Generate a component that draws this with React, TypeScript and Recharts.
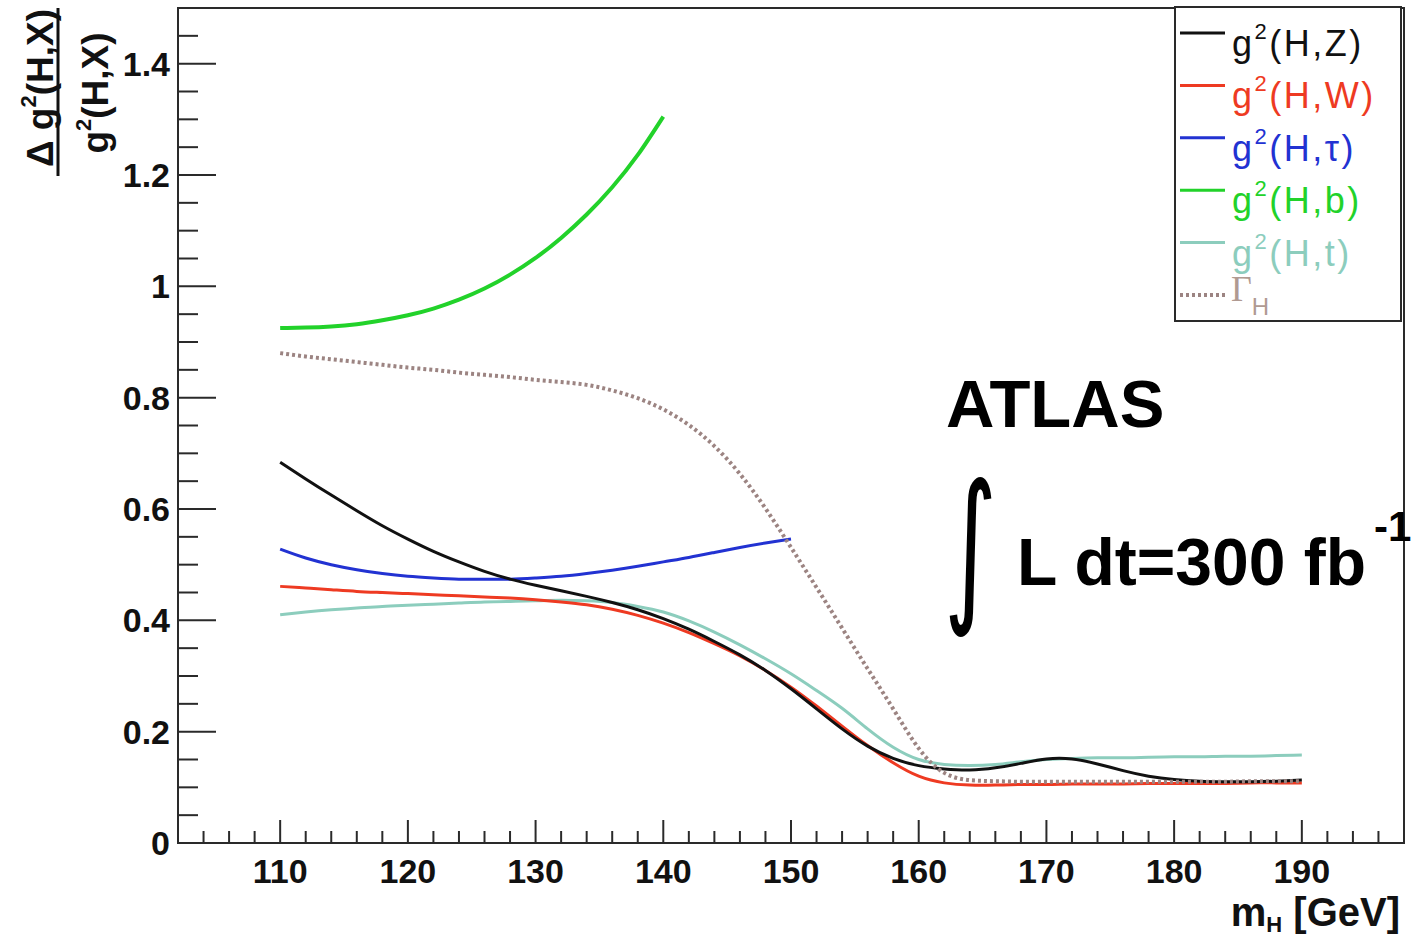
import React from 'react'
import { LineChart, Line, XAxis, YAxis, ReferenceArea, Legend } from 'recharts'

// Higgs mass points (GeV)
const MASS = [
  110, 112, 114, 116, 118, 120, 122, 124, 126, 128, 130, 132, 134, 136, 138, 140, 142, 144, 146, 148,
  150, 152, 154, 156, 158, 160, 162, 164, 166, 168, 170, 172, 174, 176, 178, 180, 182, 184, 186, 188, 190,
]

// relative coupling uncertainties
const HZ = [
  0.684, 0.654, 0.625, 0.597, 0.57, 0.546, 0.524, 0.505, 0.488, 0.474, 0.463, 0.453, 0.443, 0.432, 0.419,
  0.403, 0.384, 0.362, 0.338, 0.31, 0.277, 0.241, 0.205, 0.174, 0.152, 0.139, 0.133, 0.131, 0.135, 0.143,
  0.151, 0.151, 0.142, 0.13, 0.12, 0.114, 0.111, 0.11, 0.11, 0.111, 0.113,
]
const HW = [
  0.461, 0.458, 0.455, 0.452, 0.45, 0.448, 0.446, 0.444, 0.442, 0.44, 0.437, 0.433, 0.428, 0.42, 0.409,
  0.395, 0.378, 0.358, 0.336, 0.31, 0.28, 0.246, 0.21, 0.175, 0.144, 0.12, 0.108, 0.104, 0.104, 0.105,
  0.105, 0.106, 0.106, 0.106, 0.107, 0.107, 0.107, 0.107, 0.108, 0.108, 0.108,
]
// tau and b only up to 150 / 140 GeV
const HTAU = [
  0.528, 0.512, 0.5, 0.491, 0.484, 0.479, 0.476, 0.474, 0.474, 0.474, 0.476, 0.479, 0.484, 0.49, 0.497,
  0.505, 0.513, 0.522, 0.531, 0.539, 0.546,
]
const HB = [
  0.925, 0.926, 0.928, 0.932, 0.939, 0.948, 0.96, 0.976, 0.996, 1.021, 1.051, 1.087, 1.129, 1.178, 1.236, 1.305,
]
const HT = [
  0.41, 0.415, 0.419, 0.422, 0.425, 0.427, 0.429, 0.431, 0.433, 0.434, 0.435, 0.436, 0.435, 0.432, 0.425,
  0.415, 0.399, 0.379, 0.356, 0.331, 0.304, 0.274, 0.242, 0.205, 0.172, 0.15, 0.141, 0.139, 0.141, 0.146,
  0.15, 0.152, 0.153, 0.153, 0.154, 0.155, 0.155, 0.156, 0.156, 0.157, 0.158,
]
const GAMMA_H = [
  0.88, 0.874, 0.869, 0.864, 0.859, 0.854, 0.85, 0.845, 0.841, 0.837, 0.832, 0.828, 0.823, 0.813, 0.799,
  0.779, 0.751, 0.713, 0.663, 0.601, 0.531, 0.459, 0.386, 0.313, 0.241, 0.17, 0.126, 0.113, 0.111, 0.11,
  0.11, 0.11, 0.11, 0.11, 0.11, 0.11, 0.11, 0.11, 0.111, 0.111, 0.111,
]

const X_TICKS = [
  102, 104, 106, 108, 110, 112, 114, 116, 118, 120, 122, 124, 126, 128, 130, 132, 134, 136, 138, 140,
  142, 144, 146, 148, 150, 152, 154, 156, 158, 160, 162, 164, 166, 168, 170, 172, 174, 176, 178, 180,
  182, 184, 186, 188, 190, 192, 194, 196, 198,
]
const Y_TICKS = [
  0, 0.05, 0.1, 0.15, 0.2, 0.25, 0.3, 0.35, 0.4, 0.45, 0.5, 0.55, 0.6, 0.65, 0.7, 0.75, 0.8, 0.85, 0.9,
  0.95, 1, 1.05, 1.1, 1.15, 1.2, 1.25, 1.3, 1.35, 1.4, 1.45,
]

const LEGEND_LABELS = ['(H,Z)', '(H,W)', '(H,\u03c4)', '(H,b)', '(H,t)']

const FONT = '"Liberation Sans", Arial, Helvetica, sans-serif'
const AXIS = '#2a2a2a'
const COLORS = {
  hz: '#111111',
  hw: '#ee3a22',
  htau: '#2232d2',
  hb: '#22d22a',
  ht: '#8ccdbd',
  gh: '#9c8482',
}

function XTick(props: any) {
  const { x, y, payload } = props
  const v = payload.value
  const major = v % 10 === 0
  return (
    <g>
      <line x1={x} x2={x} y1={y} y2={y - (major ? 23 : 12)} stroke={AXIS} strokeWidth={2} />
      {major && (
        <text x={x} y={y + 40} textAnchor="middle" fontFamily={FONT} fontWeight="bold" fontSize={34} fill="#111">
          {v}
        </text>
      )}
    </g>
  )
}

function YTick(props: any) {
  const { x, y, payload } = props
  const v = payload.value
  const r = v / 0.2
  const major = Math.abs(r - Math.round(r)) < 1e-6
  const x0 = x + 8
  return (
    <g>
      <line x1={x0} x2={x0 + (major ? 38 : 20)} y1={y} y2={y} stroke={AXIS} strokeWidth={2} />
      {major && (
        <text x={x} y={y + 12} textAnchor="end" fontFamily={FONT} fontWeight="bold" fontSize={34} fill="#111">
          {String(Number(v.toFixed(1)))}
        </text>
      )}
    </g>
  )
}

function LegendBox() {
  const keys: (keyof typeof COLORS)[] = ['hz', 'hw', 'htau', 'hb', 'ht']
  const rowY = (i: number) => 27 + i * 52.4
  return (
    <svg width={228} height={316} style={{ display: 'block' }}>
      <rect x={1} y={1} width={226} height={314} fill="#fff" stroke={AXIS} strokeWidth={2} />
      {keys.map((k, i) => (
        <g key={k}>
          <line x1={6} x2={51} y1={rowY(i)} y2={rowY(i)} stroke={COLORS[k]} strokeWidth={3} />
          <text x={58} y={rowY(i) + 23} fontFamily={FONT} fontSize={36} letterSpacing={2.5} fill={COLORS[k]}>
            g
            <tspan fontSize={22} dy={-17}>2</tspan>
            <tspan dy={17}>{LEGEND_LABELS[i]}</tspan>
          </text>
        </g>
      ))}
      <line x1={6} x2={51} y1={rowY(5)} y2={rowY(5)} stroke={COLORS.gh} strokeWidth={4} strokeDasharray="3 3" />
      <text x={57} y={rowY(5) + 6} fontFamily='"Liberation Serif", "Times New Roman", serif' fontSize={36} fill="#b09a92">
        {'\u0393'}
        <tspan fontFamily={FONT} fontSize={24} dy={14}>H</tspan>
      </text>
    </svg>
  )
}

export default function App() {
  const data = MASS.map((m, i) => ({
    m,
    hz: HZ[i],
    hw: HW[i],
    htau: i < HTAU.length ? HTAU[i] : null,
    hb: i < HB.length ? HB[i] : null,
    ht: HT[i],
    gh: GAMMA_H[i],
  }))

  return (
    <div style={{ position: 'absolute', left: 0, top: 0, width: 1411, height: 937, background: '#fff', overflow: 'hidden' }}>
      <LineChart width={1411} height={937} data={data} margin={{ top: 8, right: 7, bottom: 0, left: 0 }}>
        <XAxis
          type="number"
          dataKey="m"
          domain={[102, 198]}
          ticks={X_TICKS}
          interval={0}
          tick={<XTick />}
          tickLine={false}
          tickSize={0}
          tickMargin={0}
          height={94}
          axisLine={{ stroke: AXIS, strokeWidth: 2 }}
        />
        <YAxis
          type="number"
          domain={[0, 1.5]}
          ticks={Y_TICKS}
          interval={0}
          tick={<YTick />}
          tickLine={false}
          tickSize={0}
          tickMargin={8}
          width={178}
          axisLine={{ stroke: AXIS, strokeWidth: 2 }}
        />
        <ReferenceArea x1={102} x2={198} y1={0} y2={1.5} fill="none" stroke={AXIS} strokeWidth={2} />
        <Line type="natural" dataKey="hb" stroke={COLORS.hb} strokeWidth={4} dot={false} isAnimationActive={false} />
        <Line type="natural" dataKey="htau" stroke={COLORS.htau} strokeWidth={3} dot={false} isAnimationActive={false} />
        <Line type="natural" dataKey="ht" stroke={COLORS.ht} strokeWidth={3} dot={false} isAnimationActive={false} />
        <Line type="natural" dataKey="hw" stroke={COLORS.hw} strokeWidth={3} dot={false} isAnimationActive={false} />
        <Line type="natural" dataKey="hz" stroke={COLORS.hz} strokeWidth={3} dot={false} isAnimationActive={false} />
        <Line
          type="natural"
          dataKey="gh"
          stroke={COLORS.gh}
          strokeWidth={4}
          strokeDasharray="3 3"
          dot={false}
          isAnimationActive={false}
        />
        <Legend
          layout="horizontal"
          align="center"
          verticalAlign="middle"
          wrapperStyle={{ left: 1174, top: 6, width: 228, height: 316 }}
          content={() => <LegendBox />}
        />
      </LineChart>

      <svg
        width={1411}
        height={937}
        style={{ position: 'absolute', left: 0, top: 0, pointerEvents: 'none' }}
      >
        {/* y axis title as a fraction */}
        <text
          transform="translate(53, 88) rotate(-90)"
          textAnchor="middle"
          fontFamily={FONT}
          fontWeight="bold"
          fontSize={37}
          fill="#111"
        >
          {'\u0394 g'}
          <tspan fontSize={22} dy={-17}>2</tspan>
          <tspan dy={17}>(H,X)</tspan>
        </text>
        <line x1={58} x2={58} y1={8} y2={176} stroke="#111" strokeWidth={3} />
        <text
          transform="translate(108, 93) rotate(-90)"
          textAnchor="middle"
          fontFamily={FONT}
          fontWeight="bold"
          fontSize={37}
          fill="#111"
        >
          g
          <tspan fontSize={22} dy={-17}>2</tspan>
          <tspan dy={17}>(H,X)</tspan>
        </text>

        {/* x axis title */}
        <text x={1400} y={926} textAnchor="end" fontFamily={FONT} fontWeight="bold" fontSize={40} fill="#111">
          m
          <tspan fontSize={22} dy={6}>H</tspan>
          <tspan dy={-6}> [GeV]</tspan>
        </text>

        <text x={946} y={427} fontFamily={FONT} fontWeight="bold" fontSize={67} fill="#000">
          ATLAS
        </text>
        <text
          transform="translate(944, 602) scale(0.62, 1)"
          fontFamily='"DejaVu Sans", sans-serif'
          fontSize={165}
          fill="#000"
        >
          {'\u222b'}
        </text>
        <text x={1017} y={585} fontFamily={FONT} fontWeight="bold" fontSize={66} fill="#000">
          L dt=300 fb
          <tspan fontSize={42} dx={8} dy={-44}>-1</tspan>
        </text>
      </svg>
    </div>
  )
}
